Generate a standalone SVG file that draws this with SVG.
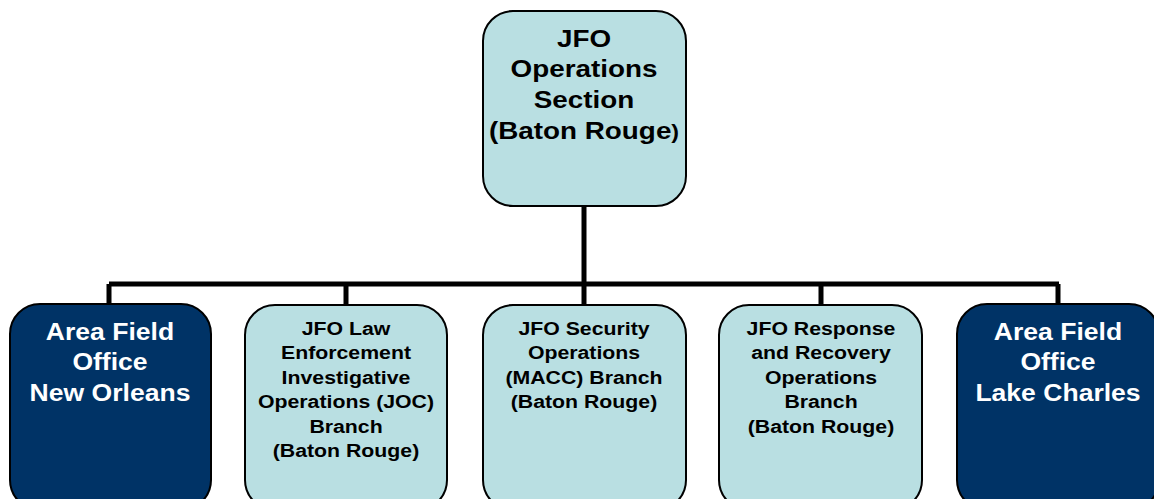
<svg xmlns="http://www.w3.org/2000/svg" width="1154" height="499" viewBox="0 0 1154 499">
<style>
.light{fill:#B9DFE2;stroke:#000;stroke-width:2}
.dark{fill:#003366;stroke:#000;stroke-width:2}
.t{font-family:"Liberation Sans",Arial,sans-serif;font-weight:bold;text-anchor:middle}
.tb{font-size:24px;fill:#000}
.td{font-size:23.5px;fill:#fff}
.tl{font-size:18.5px;fill:#000}
.con{fill:none;stroke:#000;stroke-width:5}
</style>
<rect width="1154" height="499" fill="#fff"/>
<g id="connectors">
<path class="con" d="M584 207 V284 M109 284 H1059 M109 284 V304 M346 284 V305 M584 284 V305 M821 284 V305 M1058 284 V305"/>
</g>
<g id="ops">
<rect class="light" x="483" y="11" width="203" height="195" rx="30"/>
<g transform="translate(584,0) scale(1.16,1)">
<text class="t tb" x="0" y="47">JFO</text>
<text class="t tb" x="0" y="77.5">Operations</text>
<text class="t tb" x="0" y="108">Section</text>
<text class="t tb" x="0" y="139">(Baton Rouge<tspan font-size="20">)</tspan></text>
</g>
</g>
<g id="afo-new-orleans">
<rect class="dark" x="10" y="304" width="201" height="206" rx="30"/>
<g transform="translate(110,0) scale(1.13,1)">
<text class="t td" x="0" y="340">Area Field</text>
<text class="t td" x="0" y="370.5">Office</text>
<text class="t td" x="0" y="401">New Orleans</text>
</g>
</g>
<g id="joc">
<rect class="light" x="245" y="305" width="202" height="205" rx="30"/>
<g transform="translate(346,0) scale(1.15,1)">
<text class="t tl" x="0" y="335">JFO Law</text>
<text class="t tl" x="0" y="359.4">Enforcement</text>
<text class="t tl" x="0" y="383.8">Investigative</text>
<text class="t tl" x="0" y="408.2">Operations (JOC)</text>
<text class="t tl" x="0" y="432.6">Branch</text>
<text class="t tl" x="0" y="457">(Baton Rouge)</text>
</g>
</g>
<g id="macc">
<rect class="light" x="483" y="305" width="203" height="205" rx="30"/>
<g transform="translate(584,0) scale(1.15,1)">
<text class="t tl" x="0" y="335">JFO Security</text>
<text class="t tl" x="0" y="359.4">Operations</text>
<text class="t tl" x="0" y="383.8">(MACC) Branch</text>
<text class="t tl" x="0" y="408.2">(Baton Rouge)</text>
</g>
</g>
<g id="response">
<rect class="light" x="719" y="305" width="203" height="205" rx="30"/>
<g transform="translate(821,0) scale(1.15,1)">
<text class="t tl" x="0" y="335">JFO Response</text>
<text class="t tl" x="0" y="359.4">and Recovery</text>
<text class="t tl" x="0" y="383.8">Operations</text>
<text class="t tl" x="0" y="408.2">Branch</text>
<text class="t tl" x="0" y="432.6">(Baton Rouge)</text>
</g>
</g>
<g id="afo-lake-charles">
<rect class="dark" x="957" y="304" width="202" height="206" rx="30"/>
<g transform="translate(1058,0) scale(1.13,1)">
<text class="t td" x="0" y="340">Area Field</text>
<text class="t td" x="0" y="370.5">Office</text>
<text class="t td" x="0" y="401">Lake Charles</text>
</g>
</g>
</svg>
